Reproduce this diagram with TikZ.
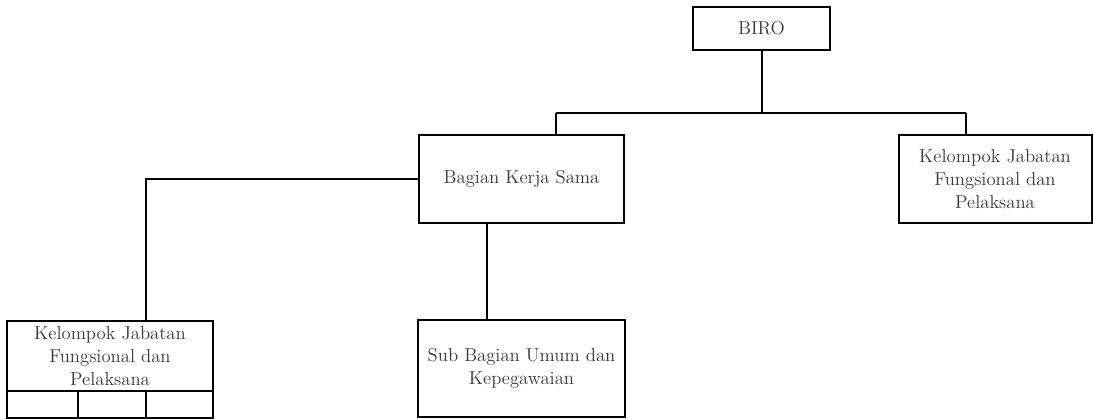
\documentclass[tikz,border=0pt]{standalone}
\begin{document}
\begin{tikzpicture}[x=0.75pt,y=-0.75pt,
  box/.style={draw=black, line width=1.5pt, fill=white, inner sep=0pt, align=center,
    text=black!78, font=\fontsize{14}{17}\selectfont},
  cell/.style={draw=black, line width=1.5pt, inner sep=0pt},
  conn/.style={draw=black, line width=1.5pt}]
\useasboundingbox[fill=white] (0,0) rectangle (1094,420);
% nodes
\node[box, minimum width=137*0.75pt, minimum height=43*0.75pt] (biro) at (761.5,28.5) {BIRO};
\node[box, minimum width=205*0.75pt, minimum height=88*0.75pt] (bagian) at (521.5,179) {Bagian Kerja Sama};
\node[box, minimum width=193*0.75pt, minimum height=88*0.75pt] (kjr) at (995,179) {Kelompok Jabatan\\Fungsional dan\\Pelaksana};
\node[box, minimum width=206*0.75pt, minimum height=70*0.75pt] (kjl) at (110,356) {Kelompok Jabatan\\Fungsional dan\\Pelaksana};
\node[cell, minimum width=71*0.75pt, minimum height=27*0.75pt] (c1) at (42.5,404.5) {};
\node[cell, minimum width=68*0.75pt, minimum height=27*0.75pt] (c2) at (112,404.5) {};
\node[cell, minimum width=67*0.75pt, minimum height=27*0.75pt] (c3) at (179.5,404.5) {};
\node[box, minimum width=207*0.75pt, minimum height=97*0.75pt] (sub) at (521.5,368.5) {Sub Bagian Umum dan\\Kepegawaian};
% junctions
\coordinate (jl) at (556,113);
\coordinate (jr) at (966,113);
\coordinate (lx) at (146,0);
\coordinate (sx) at (487,0);
% connectors
\draw[conn] (biro.south) -- (biro.south |- jl);
\draw[conn] (jl) -- (jr);
\draw[conn] (jl) -- (jl |- bagian.north);
\draw[conn] (jr) -- (jr |- kjr.north);
\draw[conn] (bagian.west) -| (kjl.north -| lx);
\draw[conn] (bagian.south -| sx) -- (sub.north -| sx);
\end{tikzpicture}
\end{document}
